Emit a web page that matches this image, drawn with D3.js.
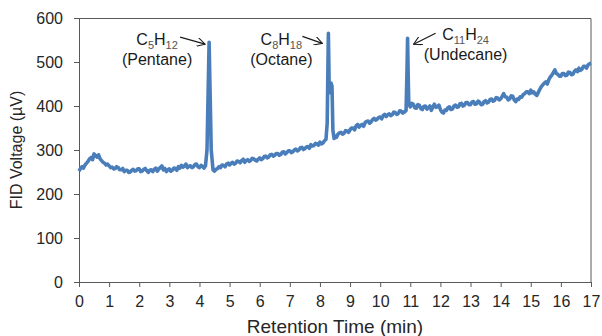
<!DOCTYPE html>
<html>
<head>
<meta charset="utf-8">
<script src="https://cdn.jsdelivr.net/npm/d3@7"></script>
<style>
  body { margin: 0; background: #fff; }
  svg { display: block; font-family: "Liberation Sans", Arial, sans-serif; }
  .axis path, .axis line { stroke: #595959; }
  .axis text { fill: #262626; font-size: 16px; font-family: "Liberation Sans", Arial, sans-serif; }
</style>
</head>
<body>
<div id="chart"></div>
<script>
// Retention time (min) and FID signal (µV)
const timeMin = [
  0.00, 0.05, 0.10, 0.15, 0.20, 0.25, 0.30, 0.35, 0.40, 0.45, 0.50, 0.55, 0.60, 0.65, 0.70, 0.75, 0.80, 0.85, 0.90, 0.95,
  1.00, 1.05, 1.10, 1.15, 1.20, 1.25, 1.30, 1.35, 1.40, 1.45, 1.50, 1.55, 1.60, 1.65, 1.70, 1.75, 1.80, 1.85, 1.90, 1.95,
  2.00, 2.05, 2.10, 2.15, 2.20, 2.25, 2.30, 2.35, 2.40, 2.45, 2.50, 2.55, 2.60, 2.65, 2.70, 2.75, 2.80, 2.85, 2.90, 2.95,
  3.00, 3.05, 3.10, 3.15, 3.20, 3.25, 3.30, 3.35, 3.40, 3.45, 3.50, 3.55, 3.60, 3.65, 3.70, 3.75, 3.80, 3.85, 3.90, 3.95,
  4.00, 4.05, 4.10, 4.15, 4.20, 4.25, 4.29, 4.32, 4.35, 4.39, 4.45, 4.50, 4.55, 4.60, 4.65, 4.70, 4.75, 4.80, 4.85, 4.90, 4.95,
  5.00, 5.05, 5.10, 5.15, 5.20, 5.25, 5.30, 5.35, 5.40, 5.45, 5.50, 5.55, 5.60, 5.65, 5.70, 5.75, 5.80, 5.85, 5.90, 5.95,
  6.00, 6.05, 6.10, 6.15, 6.20, 6.25, 6.30, 6.35, 6.40, 6.45, 6.50, 6.55, 6.60, 6.65, 6.70, 6.75, 6.80, 6.85, 6.90, 6.95,
  7.00, 7.05, 7.10, 7.15, 7.20, 7.25, 7.30, 7.35, 7.40, 7.45, 7.50, 7.55, 7.60, 7.65, 7.70, 7.75, 7.80, 7.85, 7.90, 7.95,
  8.00, 8.05, 8.10, 8.15, 8.20, 8.24, 8.28, 8.31, 8.34, 8.37, 8.40, 8.43, 8.47, 8.50, 8.55, 8.60, 8.65, 8.70, 8.75, 8.80, 8.85, 8.90, 8.95,
  9.00, 9.05, 9.10, 9.15, 9.20, 9.25, 9.30, 9.35, 9.40, 9.45, 9.50, 9.55, 9.60, 9.65, 9.70, 9.75, 9.80, 9.85, 9.90, 9.95,
  10.00, 10.05, 10.10, 10.15, 10.20, 10.25, 10.30, 10.35, 10.40, 10.45, 10.50, 10.55, 10.60, 10.65, 10.70, 10.75, 10.80, 10.86, 10.89, 10.91, 10.93, 10.95,
  11.00, 11.05, 11.10, 11.15, 11.20, 11.25, 11.30, 11.35, 11.40, 11.45, 11.50, 11.55, 11.60, 11.65, 11.70, 11.75, 11.80, 11.85, 11.90, 11.95,
  12.00, 12.05, 12.10, 12.15, 12.20, 12.25, 12.30, 12.35, 12.40, 12.45, 12.50, 12.55, 12.60, 12.65, 12.70, 12.75, 12.80, 12.85, 12.90, 12.95,
  13.00, 13.05, 13.10, 13.15, 13.20, 13.25, 13.30, 13.35, 13.40, 13.45, 13.50, 13.55, 13.60, 13.65, 13.70, 13.75, 13.80, 13.85, 13.90, 13.95,
  14.00, 14.05, 14.10, 14.15, 14.20, 14.25, 14.30, 14.35, 14.40, 14.45, 14.50, 14.55, 14.60, 14.65, 14.70, 14.75, 14.80, 14.85, 14.90, 14.95,
  15.00, 15.05, 15.10, 15.15, 15.20, 15.25, 15.30, 15.35, 15.40, 15.45, 15.50, 15.55, 15.60, 15.65, 15.70, 15.75, 15.80, 15.85, 15.90, 15.95,
  16.00, 16.05, 16.10, 16.15, 16.20, 16.25, 16.30, 16.35, 16.40, 16.45, 16.50, 16.55, 16.60, 16.65, 16.70, 16.75, 16.80, 16.85, 16.90, 16.95,
  17.00
];
const fidUv = [
  252, 258, 262, 259, 266, 270, 274, 280, 283, 278, 291, 287, 284, 289, 280, 276, 272, 270, 266, 268,
  264, 260, 261, 257, 258, 262, 260, 255, 255, 258, 251, 254, 254, 249, 250, 254, 256, 252, 253, 257,
  257, 251, 252, 256, 258, 253, 249, 254, 255, 251, 256, 259, 252, 257, 260, 264, 255, 258, 251, 255,
  257, 252, 254, 259, 258, 254, 262, 259, 265, 261, 263, 268, 260, 263, 264, 260, 262, 267, 268, 262,
  260, 265, 263, 259, 264, 300, 440, 545, 440, 300, 255, 252, 256, 258, 262, 260, 266, 265, 262, 268, 270,
  266, 270, 272, 268, 270, 275, 274, 271, 276, 279, 272, 276, 278, 274, 276, 281, 280, 277, 275, 279,
  282, 278, 280, 285, 286, 282, 284, 289, 290, 286, 288, 292, 292, 288, 290, 295, 296, 291, 294, 298,
  298, 294, 296, 300, 302, 298, 300, 305, 306, 301, 303, 307, 308, 304, 312, 309, 310, 315, 314, 311,
  318, 314, 316, 321, 324, 360, 565, 430, 448, 452, 445, 345, 326, 332, 329, 336, 339, 340, 336, 338, 344, 343, 340,
  346, 350, 350, 346, 355, 358, 352, 356, 358, 354, 362, 365, 366, 361, 364, 369, 372, 368, 370, 374,
  375, 371, 378, 381, 376, 380, 382, 378, 380, 386, 385, 381, 383, 389, 388, 384, 386, 390, 480, 554, 470, 405,
  398, 406, 404, 396, 395, 403, 402, 394, 392, 399, 400, 393, 396, 400, 390, 398, 404, 397, 398, 402,
  392, 386, 384, 391, 390, 396, 398, 392, 393, 400, 402, 397, 398, 405, 406, 400, 402, 408, 408, 403,
  403, 409, 410, 404, 405, 411, 409, 403, 404, 410, 412, 407, 409, 415, 416, 411, 413, 419, 418, 414,
  416, 422, 428, 421, 420, 414, 416, 423, 422, 414, 410, 416, 415, 421, 420, 426, 428, 432, 432, 428,
  436, 430, 432, 427, 424, 431, 438, 444, 448, 452, 455, 450, 460, 466, 470, 476, 482, 474, 472, 468,
  468, 474, 474, 469, 470, 477, 476, 471, 472, 479, 482, 478, 486, 481, 484, 490, 490, 486, 493, 496,
  497
];

// Peak labels
const peakFormula = [["C", "5", "H", "12"], ["C", "8", "H", "18"], ["C", "11", "H", "24"]];
const peakName = ["(Pentane)", "(Octane)", "(Undecane)"];
const peakTime = [4.32, 8.28, 10.91];
const peakValue = [545, 565, 554];

const xTicks = d3.range(0, 18, 1);
const yTicks = [0, 100, 200, 300, 400, 500, 600];

// Label placement relative to each peak (pixels)
const labelLayout = [
  { textDx: -52, textDy: 3, tip: [-4, 2], tail: [-29, -5] },
  { textDx: -47, textDy: 12, tip: [-6, 10], tail: [-26, 3] },
  { textDx: 58, textDy: 2, tip: [6, 6], tail: [28, -5] }
];

const W = 602, H = 336;
const margin = { top: 18, right: 11, bottom: 54, left: 79 };
const width = W - margin.left - margin.right;
const height = H - margin.top - margin.bottom;

const svg = d3.select("#chart").append("svg")
  .attr("width", W)
  .attr("height", H);

const g = svg.append("g")
  .attr("transform", `translate(${margin.left},${margin.top})`);

const x = d3.scaleLinear().domain([0, 17]).range([0, width]);
const y = d3.scaleLinear().domain([0, 600]).range([height, 0]);

// Frame (top and right)
g.append("path")
  .attr("d", `M0,0.5H${width}V${height}`)
  .attr("fill", "none")
  .attr("stroke", "#595959")
  .attr("stroke-width", 1);

// Axes
g.append("g")
  .attr("class", "axis")
  .attr("transform", `translate(0,${height})`)
  .call(d3.axisBottom(x).tickValues(xTicks).tickSize(5).tickSizeOuter(0).tickPadding(9).tickFormat(d3.format("d")));

g.append("g")
  .attr("class", "axis")
  .call(d3.axisLeft(y).tickValues(yTicks).tickSize(5).tickSizeOuter(0).tickPadding(11));

// Axis titles
g.append("text")
  .attr("x", width / 2)
  .attr("y", height + 51)
  .attr("text-anchor", "middle")
  .attr("fill", "#262626")
  .style("font-size", "19px")
  .text("Retention Time (min)");

g.append("text")
  .attr("transform", "rotate(-90)")
  .attr("x", -height / 2)
  .attr("y", -57)
  .attr("text-anchor", "middle")
  .attr("fill", "#262626")
  .style("font-size", "16px")
  .text("FID Voltage (µV)");

// Trace
const trace = timeMin.map((t, i) => ({ t: t, v: fidUv[i] }));
const line = d3.line()
  .x(d => x(d.t))
  .y(d => y(d.v));

g.append("path")
  .datum(trace)
  .attr("d", line)
  .attr("fill", "none")
  .attr("stroke", "#4a7ebb")
  .attr("stroke-width", 3.6)
  .attr("stroke-linejoin", "round");

// Arrow marker
svg.append("defs").append("marker")
  .attr("id", "arrow")
  .attr("viewBox", "0 0 10 10")
  .attr("refX", 9)
  .attr("refY", 5)
  .attr("markerWidth", 9)
  .attr("markerHeight", 9)
  .attr("markerUnits", "userSpaceOnUse")
  .attr("orient", "auto")
  .append("path")
  .attr("d", "M0,0L9,5L0,10")
  .attr("fill", "none")
  .attr("stroke", "#1a1a1a")
  .attr("stroke-width", 1.2);

// Peak labels
peakTime.forEach((t, i) => {
  const px = x(t), py = y(peakValue[i]);
  const lay = labelLayout[i];
  const f = peakFormula[i];

  const label = g.append("text")
    .attr("x", px + lay.textDx)
    .attr("y", py + lay.textDy)
    .attr("text-anchor", "middle")
    .attr("fill", "#1a1a1a")
    .style("font-size", "16px");
  label.append("tspan").text(f[0]);
  label.append("tspan").attr("dy", 4).style("font-size", "11px").attr("fill", "#555").text(f[1]);
  label.append("tspan").attr("dy", -4).text(f[2]);
  label.append("tspan").attr("dy", 4).style("font-size", "11px").attr("fill", "#555").text(f[3]);

  g.append("text")
    .attr("x", px + lay.textDx)
    .attr("y", py + lay.textDy + 20)
    .attr("text-anchor", "middle")
    .attr("fill", "#1a1a1a")
    .style("font-size", "16px")
    .text(peakName[i]);

  g.append("line")
    .attr("x1", px + lay.tail[0])
    .attr("y1", py + lay.tail[1])
    .attr("x2", px + lay.tip[0])
    .attr("y2", py + lay.tip[1])
    .attr("stroke", "#1a1a1a")
    .attr("stroke-width", 1.2)
    .attr("marker-end", "url(#arrow)");
});
</script>
</body>
</html>
